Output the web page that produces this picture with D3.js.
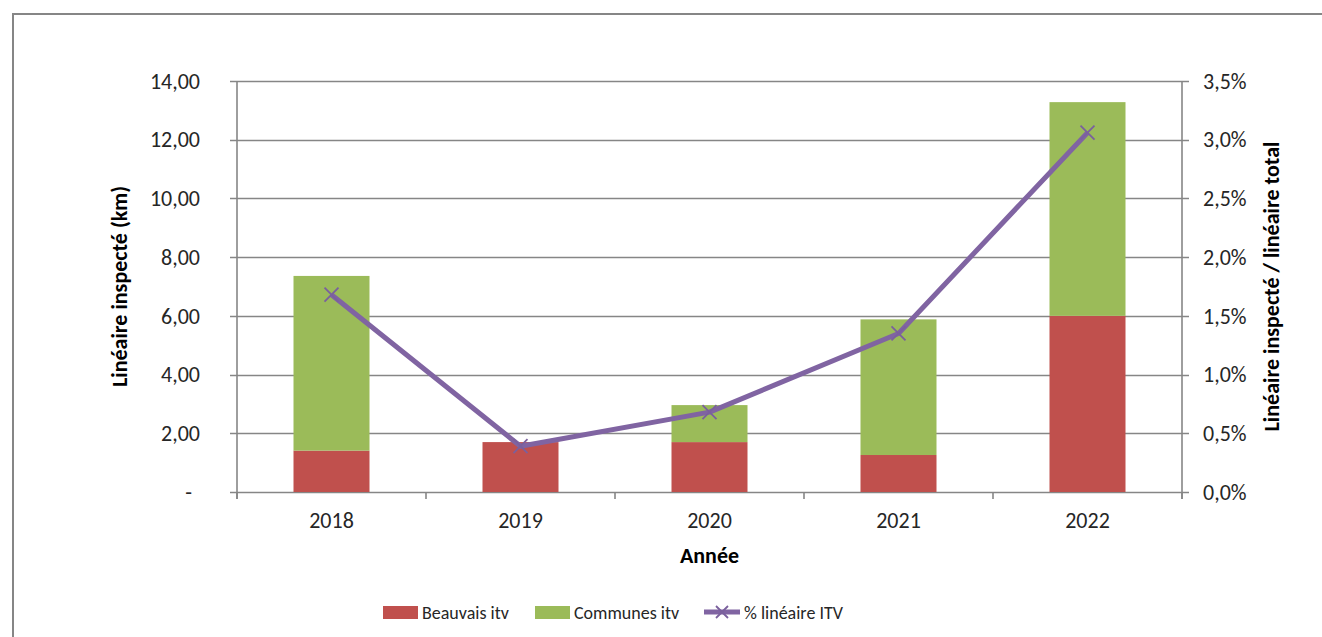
<!DOCTYPE html>
<html>
<head>
<meta charset="utf-8">
<script src="https://cdn.jsdelivr.net/npm/d3@7"></script>
<style>
  body { margin: 0; background: #fff; }
  svg { display: block; font-family: Carlito, Calibri, "Liberation Sans", Arial, sans-serif; }
</style>
</head>
<body>
<svg width="1322" height="637"></svg>
<script>
var years = ["2018", "2019", "2020", "2021", "2022"];
var beauvais = [1.41, 1.70, 1.70, 1.26, 6.00];
var communes = [5.95, 0.00, 1.26, 4.62, 7.28];
var pctLineaire = [0.0168, 0.0039, 0.0068, 0.0135, 0.0306];
var leftTicks = [0, 2, 4, 6, 8, 10, 12, 14];
var rightTicks = [0, 0.005, 0.01, 0.015, 0.02, 0.025, 0.03, 0.035];

var svg = d3.select("svg"),
    grey = "#868686",
    red = "#C0504D",
    green = "#9BBB59",
    purple = "#8064A2";

var plotLeft = 237, plotRight = 1182, plotTop = 81, plotBottom = 492;

// frame around the chart
svg.append("rect")
  .attr("x", 13).attr("y", 14)
  .attr("width", 1330).attr("height", 640)
  .attr("fill", "none").attr("stroke", grey).attr("stroke-width", 2);

var x = d3.scaleBand().domain(years).range([plotLeft, plotRight]).paddingInner(0).paddingOuter(0);
var y = d3.scaleLinear().domain([0, 14]).range([plotBottom, plotTop]);
var y2 = d3.scaleLinear().domain([0, 0.035]).range([plotBottom, plotTop]);

var fmtLeft = function(d) { return d === 0 ? "-" : d3.format(".2f")(d).replace(".", ","); };
var fmtRight = function(d) { return d3.format(".1%")(d).replace(".", ","); };

// gridlines (they run from the left tick to the right tick)
svg.append("g").selectAll("line")
  .data(leftTicks)
  .enter().append("line")
    .attr("x1", plotLeft - 7).attr("x2", plotRight + 7)
    .attr("y1", function(d) { return Math.round(y(d)) + 0.5; })
    .attr("y2", function(d) { return Math.round(y(d)) + 0.5; })
    .attr("stroke", grey).attr("stroke-width", 1.6);

// vertical axis lines
svg.append("line").attr("x1", plotLeft).attr("x2", plotLeft).attr("y1", plotTop).attr("y2", plotBottom + 7)
  .attr("stroke", grey).attr("stroke-width", 1.6);
svg.append("line").attr("x1", plotRight).attr("x2", plotRight).attr("y1", plotTop).attr("y2", plotBottom + 7)
  .attr("stroke", grey).attr("stroke-width", 1.6);

// x ticks at band boundaries
var bounds = years.map(function(d) { return x(d); }).concat([plotRight]);
svg.append("g").selectAll("line")
  .data(bounds)
  .enter().append("line")
    .attr("x1", function(d) { return d; }).attr("x2", function(d) { return d; })
    .attr("y1", plotBottom).attr("y2", plotBottom + 7)
    .attr("stroke", grey).attr("stroke-width", 1.6);

// left labels
svg.append("g").selectAll("text")
  .data(leftTicks)
  .enter().append("text")
    .attr("x", function(d) { return d === 0 ? 192 : 200; })
    .attr("y", function(d) { return y(d); })
    .attr("dy", "0.35em")
    .attr("text-anchor", "end")
    .attr("font-size", 22)
    .attr("fill", "#262626")
    .text(fmtLeft);

// right labels
svg.append("g").selectAll("text")
  .data(rightTicks)
  .enter().append("text")
    .attr("x", 1203)
    .attr("y", function(d) { return y2(d); })
    .attr("dy", "0.35em")
    .attr("font-size", 22)
    .attr("fill", "#262626")
    .text(fmtRight);

// x labels
svg.append("g").selectAll("text")
  .data(years)
  .enter().append("text")
    .attr("x", function(d) { return x(d) + x.bandwidth() / 2; })
    .attr("y", 528)
    .attr("text-anchor", "middle")
    .attr("font-size", 22)
    .attr("fill", "#262626")
    .text(function(d) { return d; });

// axis titles
svg.append("text")
  .attr("x", (plotLeft + plotRight) / 2).attr("y", 563)
  .attr("text-anchor", "middle").attr("font-weight", "bold")
  .attr("font-size", 22).attr("fill", "#000")
  .text("Année");

svg.append("text")
  .attr("transform", "translate(127," + ((plotTop + plotBottom) / 2) + ") rotate(-90)")
  .attr("text-anchor", "middle").attr("font-weight", "bold")
  .attr("font-size", 22).attr("fill", "#000")
  .text("Linéaire inspecté (km)");

svg.append("text")
  .attr("transform", "translate(1279," + ((plotTop + plotBottom) / 2) + ") rotate(-90)")
  .attr("text-anchor", "middle").attr("font-weight", "bold")
  .attr("font-size", 22).attr("fill", "#000")
  .text("Linéaire inspecté / linéaire total");

// stacked bars
var barW = 76;
var rows = years.map(function(d, i) { return { year: d, beauvais: beauvais[i], communes: communes[i] }; });
var stack = d3.stack().keys(["beauvais", "communes"])(rows);
var colors = { beauvais: red, communes: green };

svg.append("g").selectAll("g")
  .data(stack)
  .enter().append("g")
    .attr("fill", function(s) { return colors[s.key]; })
  .selectAll("rect")
    .data(function(s) { return s; })
    .enter().append("rect")
      .attr("x", function(d) { return x(d.data.year) + x.bandwidth() / 2 - barW / 2; })
      .attr("width", barW)
      .attr("y", function(d) { return y(d[1]); })
      .attr("height", function(d) { return y(d[0]) - y(d[1]); });

// percentage line
var line = d3.line()
  .x(function(d, i) { return x(years[i]) + x.bandwidth() / 2; })
  .y(function(d) { return y2(d); });

svg.append("path")
  .datum(pctLineaire)
  .attr("d", line)
  .attr("fill", "none")
  .attr("stroke", purple)
  .attr("stroke-width", 5)
  .attr("stroke-linejoin", "round");

var cross = function(sel, cx, cy, r) {
  sel.append("path")
    .attr("d", "M" + (cx - r) + "," + (cy - r) + "L" + (cx + r) + "," + (cy + r) +
               "M" + (cx - r) + "," + (cy + r) + "L" + (cx + r) + "," + (cy - r))
    .attr("stroke", "#7A609D").attr("stroke-width", 1.8).attr("fill", "none");
};

var markers = svg.append("g");
pctLineaire.forEach(function(d, i) {
  cross(markers, x(years[i]) + x.bandwidth() / 2, y2(d), 7);
});

// legend
var legend = svg.append("g");
legend.append("rect").attr("x", 383).attr("y", 606).attr("width", 35).attr("height", 13).attr("fill", red);
legend.append("text").attr("x", 422).attr("y", 619).attr("font-size", 18).attr("fill", "#262626").text("Beauvais itv");
legend.append("rect").attr("x", 535).attr("y", 606).attr("width", 35).attr("height", 13).attr("fill", green);
legend.append("text").attr("x", 574).attr("y", 619).attr("font-size", 18).attr("fill", "#262626").text("Communes itv");
legend.append("line").attr("x1", 704).attr("x2", 740).attr("y1", 612).attr("y2", 612)
  .attr("stroke", purple).attr("stroke-width", 5);
cross(legend, 722, 612, 6);
legend.append("text").attr("x", 744).attr("y", 619).attr("font-size", 18).attr("fill", "#262626").text("% linéaire ITV");
</script>
</body>
</html>
